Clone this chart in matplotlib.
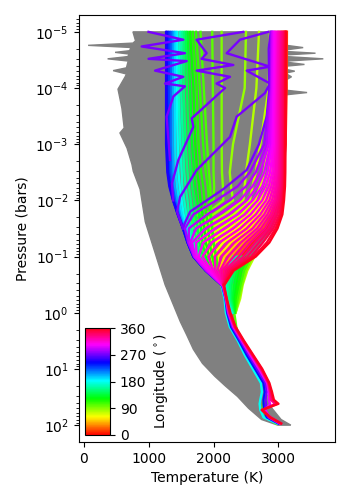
import matplotlib
matplotlib.use("Agg")
import matplotlib.pyplot as plt
from matplotlib.cm import ScalarMappable
from matplotlib.colors import Normalize

# grey envelope (logP, T)
grey_left_logp = [-5.0,-4.84,-4.80,-4.76,-4.72,-4.70,-4.665,-4.635,-4.605,-4.58,-4.56,-4.52,-4.48,-4.45,-4.36,-4.31,-4.25,-4.2,-3.98,-3.64,-3.29,-3.2,-2.93,-2.64,-2.52,-2.2,-1.62,-0.96,-0.5,0.16,0.4,0.65,0.9,1.13,1.3,1.49,1.7,1.9,2.0]
grey_left_t = [760,800,760,70,760,720,710,485,700,690,680,370,690,680,660,455,660,640,530,590,625,560,670,745,765,870,950,1130,1255,1490,1590,1690,1830,2020,2180,2370,2540,2740,2990]
grey_right_logp = [2.0,1.9,1.7,1.4,1.0,0.5,0.0,-0.5,-1.0,-1.5,-2.0,-2.5,-3.0,-3.6,-3.88,-3.92,-3.96,-4.15,-4.2,-4.25,-4.27,-4.3,-4.33,-4.39,-4.42,-4.46,-4.48,-4.52,-4.56,-4.59,-4.62,-4.65,-4.68,-4.72,-4.76,-5.0]
grey_right_t = [3190,3040,2900,2800,2700,2400,2300,2400,2600,2900,3050,3100,3110,3110,3120,3440,3130,3125,3200,3125,3125,3250,3125,3125,3400,3125,3125,3690,3125,3125,3570,3125,3125,3380,3125,3125]

# upper atmosphere
levels = [-5,-4,-3,-2.5,-2.25,-2,-1.75,-1.5,-1.25,-1,-0.75,-0.5]

night_lons = [250,240,230,220,205,190,180,170,160,150,140,130,120,115,110,105]
night_temps = [
 [1270,1270,1270,1290,1320,1377,1450,1530,1600,1690,1880,2120],
 [1290,1280,1290,1300,1330,1380,1450,1530,1600,1690,1880,2120],
 [1320,1310,1310,1320,1345,1390,1455,1535,1605,1690,1880,2120],
 [1350,1340,1340,1350,1370,1410,1465,1540,1610,1695,1885,2125],
 [1380,1370,1370,1380,1400,1435,1485,1550,1620,1700,1890,2130],
 [1410,1400,1410,1420,1440,1470,1510,1570,1635,1710,1895,2130],
 [1440,1430,1450,1460,1480,1510,1540,1590,1650,1720,1900,2135],
 [1480,1460,1490,1510,1520,1550,1580,1620,1670,1740,1900,2140],
 [1510,1500,1530,1550,1570,1600,1620,1660,1700,1770,1910,2145],
 [1540,1540,1570,1600,1620,1650,1670,1710,1740,1800,1920,2150],
 [1570,1590,1620,1650,1670,1700,1720,1760,1780,1840,1940,2155],
 [1600,1640,1670,1700,1720,1750,1780,1810,1830,1880,1960,2160],
 [1640,1690,1720,1750,1780,1800,1830,1860,1880,1930,1990,2170],
 [1680,1740,1770,1810,1840,1860,1890,1920,1940,1980,2030,2180],
 [1730,1790,1840,1880,1910,1930,1950,1980,2000,2040,2070,2190],
 [1800,1850,1900,1930,1950,1960,1960,1980,2000,2040,2070,2190],
]

yellow_lons = [100,92,86,80,76,72,68,64,60,56,50,40,25,10]
yellow_temps = [
 [1980,1990,2000,2000,2010,2000,1760,1580,1612,1701,1885,2125],
 [2125,2125,2125,2130,2145,2150,1880,1590,1615,1702,1888,2125],
 [2500,2480,2300,2250,2270,2300,2000,1670,1630,1708,1895,2130],
 [2700,2660,2560,2500,2480,2460,2170,1800,1650,1715,1910,2130],
 [2870,2850,2720,2650,2600,2560,2310,1950,1700,1730,1925,2135],
 [2950,2930,2850,2780,2720,2640,2430,2100,1780,1755,1945,2135],
 [3000,2980,2930,2860,2800,2715,2530,2240,1900,1800,1965,2140],
 [3040,3020,2970,2900,2850,2780,2610,2360,2030,1875,1990,2140],
 [3060,3050,3000,2940,2890,2835,2685,2460,2150,1970,2015,2145],
 [3080,3070,3030,2970,2930,2880,2750,2560,2265,2070,2045,2145],
 [3095,3085,3060,3000,2960,2920,2805,2640,2370,2170,2080,2150],
 [3110,3100,3080,3025,2990,2950,2850,2700,2460,2265,2115,2150],
 [3120,3115,3095,3050,3015,2980,2895,2760,2535,2350,2150,2155],
 [3130,3125,3110,3070,3040,3000,2930,2815,2605,2425,2185,2155],
]

magenta_lons = [282,288,294,298,302,306,310,314,318,322,326,330,334,338,342,346,352,358]
magenta_temps = [
 [2890,2880,2780,2560,2370,2040,1690,1560,1610,1700,1885,2125],
 [2900,2890,2820,2650,2500,2250,1900,1620,1620,1705,1890,2125],
 [2910,2900,2850,2720,2600,2400,2090,1730,1640,1710,1900,2130],
 [2920,2910,2880,2780,2680,2510,2240,1880,1670,1720,1915,2130],
 [2935,2925,2905,2830,2750,2600,2370,2030,1730,1740,1930,2135],
 [2950,2940,2925,2870,2800,2680,2480,2170,1840,1770,1950,2135],
 [2970,2960,2945,2905,2850,2750,2570,2300,1970,1830,1975,2140],
 [2985,2975,2965,2935,2890,2810,2650,2410,2090,1920,2000,2140],
 [3000,2990,2985,2960,2925,2860,2720,2510,2210,2020,2030,2145],
 [3015,3005,3000,2985,2955,2900,2780,2600,2320,2120,2060,2145],
 [3030,3020,3015,3005,2980,2935,2830,2670,2420,2220,2100,2150],
 [3045,3035,3030,3020,3005,2965,2875,2730,2500,2310,2130,2150],
 [3060,3050,3045,3040,3025,2990,2915,2790,2570,2390,2170,2155],
 [3075,3065,3060,3055,3045,3015,2950,2840,2640,2460,2200,2155],
 [3090,3080,3075,3070,3060,3035,2985,2880,2700,2520,2230,2160],
 [3100,3095,3090,3085,3075,3055,3015,2920,2760,2580,2260,2160],
 [3110,3105,3100,3095,3090,3070,3040,2955,2820,2620,2290,2165],
 [3118,3112,3108,3105,3100,3085,3060,2985,2860,2650,2310,2170],
]

# neck: logP -1 .. 0
neck_levels = [-1,-0.75,-0.5,-0.25,0]
neck_lons = [175,165,155,148,140,132,125,118,108,95,80]
neck_temps = [
 [2300,2210,2160,2190,2280],
 [2340,2240,2190,2210,2290],
 [2370,2270,2220,2230,2295],
 [2400,2300,2250,2250,2300],
 [2430,2330,2280,2270,2305],
 [2460,2360,2320,2290,2310],
 [2500,2390,2350,2310,2320],
 [2540,2430,2385,2340,2325],
 [2570,2470,2415,2370,2330],
 [2600,2500,2440,2390,2340],
 [2630,2520,2450,2410,2340],
]

# deep atmosphere
deep_levels = [-0.5,-0.25,0,0.25,0.5,0.75,1,1.25,1.41,1.55,1.62,1.73,1.86,1.97]
deep_lons = [100,180,240,270,300,330,345,358]
deep_temps = [
 [2300,2290,2320,2350,2410,2510,2640,2800,2900,2780,2760,2760,2830,2960],
 [2120,2170,2190,2250,2375,2480,2605,2730,2745,2720,2710,2720,2770,2980],
 [2130,2185,2210,2270,2395,2510,2640,2770,2790,2770,2770,2780,2820,3000],
 [2135,2190,2220,2290,2415,2540,2670,2800,2820,2800,2810,2790,2840,3010],
 [2140,2190,2230,2305,2435,2565,2700,2825,2850,2850,2870,2800,2860,3020],
 [2150,2195,2240,2320,2450,2590,2725,2840,2870,2880,2950,2760,2880,3040],
 [2155,2200,2250,2330,2460,2600,2740,2850,2885,2910,2980,2750,2870,3040],
 [2160,2205,2260,2340,2470,2610,2750,2860,2900,2930,3000,2740,2870,3040],
]

# purple zigzag profiles
zig1_logp = [-5.0,-4.86,-4.74,-4.62,-4.52,-4.48,-4.31,-4.2,-4.08,-4.03,-3.85,-3.49,-2.72]
zig1_t = [1000,1535,895,1560,1000,1587,1100,1535,1254,1560,1382,1279,1330]
zig2_logp = [-5.0,-4.86,-4.62,-4.52,-4.41,-4.31,-4.2,-4.08,-4.0,-3.46,-3.31,-2.72,-2.3,-2.0]
zig2_t = [2458,1740,1895,1817,2305,1740,2254,2048,2177,1664,1690,1459,1360,1380]
zig3_logp = [-5.0,-4.86,-4.62,-4.38,-4.31,-4.08,-3.91,-3.49,-3.13,-2.54,-2.06,-1.8,-1.5]
zig3_t = [2844,2407,2203,2870,2510,2870,2791,2356,2254,1740,1484,1440,1530]
zig4_logp = [-5.0,-4.7,-4.0,-3.5,-3.0,-2.54,-2.2,-1.8,-1.6,-1.5]
zig4_t = [2880,2850,2860,2820,2700,2510,2150,1640,1560,1530]
zig_lon = 272

cbar_ticks = [0, 90, 180, 270, 360]
x_ticks = [0, 1000, 2000, 3000]
y_ticks = [1e-5, 1e-4, 1e-3, 1e-2, 1e-1, 1e0, 1e1, 1e2]

cmap = plt.get_cmap("hsv")
norm = Normalize(0, 360)
LW = 1.7

fig = plt.figure(figsize=(3.5, 5.0), dpi=100)
ax = fig.add_axes([78.5/350, 1-442/500, (335-78.5)/350, (442-15)/500])
ax.set_xlim(-78, 3870)
ax.set_yscale("log")
ax.set_ylim(10**2.30, 10**-5.30)


def P(seq):
    return [10.0 ** v for v in seq]


ax.fill(grey_left_t + grey_right_t, P(grey_left_logp + grey_right_logp),
        color="gray", lw=1.0, zorder=1)

groups = []
for lon, t in zip(yellow_lons, yellow_temps):
    groups.append((lon, t, levels))
for lon, t in zip(neck_lons, neck_temps):
    groups.append((lon, t, neck_levels))
for lon, t in zip(night_lons, night_temps):
    groups.append((lon, t, levels))
for lon, t in zip(deep_lons, deep_temps):
    groups.append((lon, t, deep_levels))
for lon, t in zip(magenta_lons, magenta_temps):
    groups.append((lon, t, levels))
groups.sort(key=lambda g: g[0])
for lon, t, lev in groups:
    ax.plot(t, P(lev), color=cmap(norm(lon)), lw=LW, zorder=2 + lon / 360)

for t, lp in ((zig1_t, zig1_logp), (zig2_t, zig2_logp), (zig3_t, zig3_logp), (zig4_t, zig4_logp)):
    ax.plot(t, P(lp), color=cmap(norm(zig_lon)), lw=LW, zorder=2 + zig_lon / 360)

ax.set_xticks(x_ticks)
ax.set_yticks(y_ticks)
ax.set_xlabel("Temperature (K)")
ax.set_ylabel("Pressure (bars)")

cax = fig.add_axes([85/350, 1-435/500, 25/350, 107/500])
cb = fig.colorbar(ScalarMappable(norm=norm, cmap=cmap), cax=cax, ticks=cbar_ticks)
cb.set_label(r"Longitude ($^\circ$)")
cb.ax.tick_params(labelsize=10)

fig.savefig("out.png", dpi=100)
